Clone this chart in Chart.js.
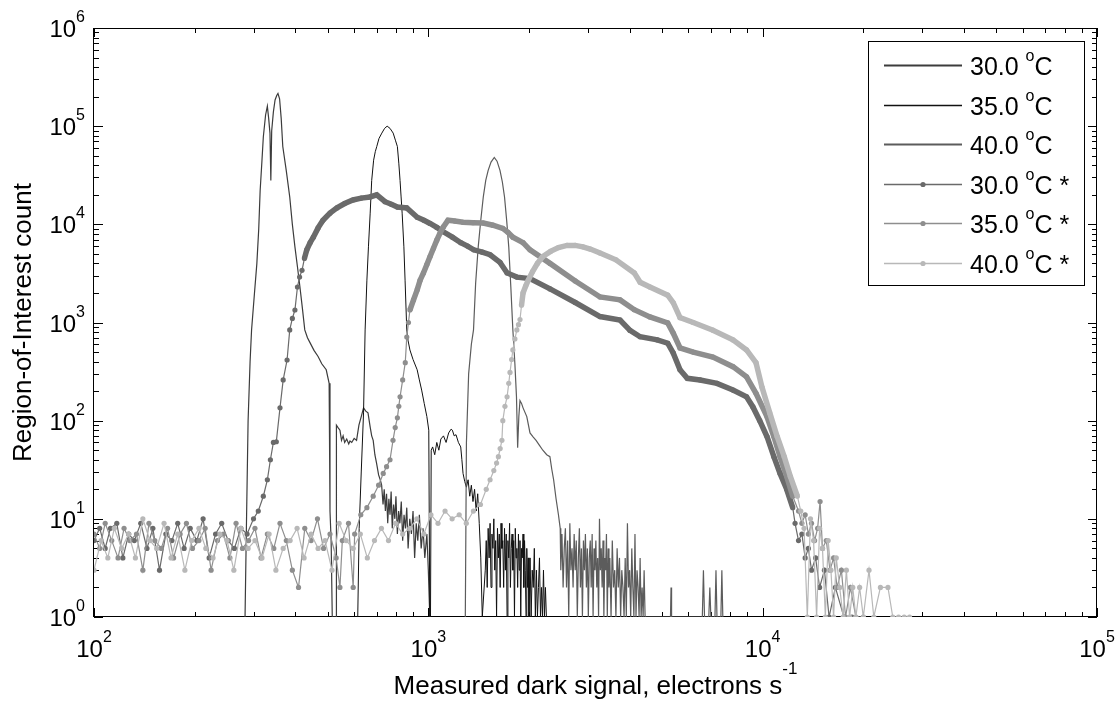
<!DOCTYPE html>
<html>
<head>
<meta charset="utf-8">
<script src="https://cdn.jsdelivr.net/npm/chart.js@4.4.0/dist/chart.umd.min.js"></script>
<style>
  html, body { margin: 0; padding: 0; background: #fff; }
  #wrap { width: 1118px; height: 707px; }
</style>
</head>
<body>
<div id="wrap"><canvas id="darkChart" width="1118" height="707"></canvas></div>
<script>
// decade exponents for the tick labels
const xTickExps = [2, 3, 4, 5];
const yTickExps = [0, 1, 2, 3, 4, 5, 6];

const legendLabels = ['30.0', '35.0', '40.0', '30.0', '35.0', '40.0'];

// thin histograms (electrons/s, count)
const thin30X = [283, 285, 289, 293, 296, 302, 307, 311, 314, 318, 321, 326, 330, 333, 336, 338, 340, 344, 348, 352,
  355, 359, 363, 367, 376, 385, 392, 399, 406, 413, 420, 427, 435, 443, 455, 468, 480, 495, 505, 508, 512, 516,
  530, 531, 537, 544, 550, 556, 562, 570, 578, 583, 590, 600, 610, 620, 630, 640, 650, 660, 670, 677, 684, 692, 700, 710, 718,
  725, 732, 738, 744, 750, 756, 762, 768, 774, 780, 787, 794, 800, 808, 815, 822, 830, 838, 846, 854,
  862, 870, 880, 890, 900, 910, 920, 930, 940, 952, 964, 976, 990, 1000, 1010];
const thin30Y = [1, 5, 100, 400, 840, 2000, 4000, 9000, 22000, 45000, 78000, 130000, 160000, 120000, 85000, 28000, 90000, 140000, 185000, 205000,
  215000, 190000, 120000, 62000, 35000, 19000, 10000, 5900, 3700, 2300, 1400, 840, 700, 620, 520, 450, 380, 330, 240, 12, 6, 1,
  1, 90, 85, 80, 63, 70, 60, 65, 58, 62, 60, 66, 63, 90, 110, 135, 125, 120, 86, 70, 63, 45, 37, 28, 25,
  22, 14, 20, 12, 18, 9, 16, 11, 19, 8, 14, 10, 17, 7, 12, 9, 15, 6, 11, 8,
  13, 5, 10, 7, 12, 4, 9, 6, 11, 5, 8, 4, 7, 3, 1];

const thin35X = [615, 621, 630, 640, 647, 655, 662, 670, 677, 686, 694, 701, 712, 726, 740, 753, 768, 785, 797, 808,
  816, 823, 829, 835, 845, 852, 862, 870, 881, 900, 926, 940, 955, 972, 990, 1003, 1010,
  1015, 1020, 1030, 1045, 1060, 1075, 1090, 1110, 1130, 1150, 1170, 1180, 1195, 1210, 1230, 1250, 1260, 1270, 1285, 1300,
  1315, 1330, 1345, 1360, 1375, 1390, 1405, 1420, 1435, 1450,
  1480, 1490, 1500, 1510, 1520, 1530, 1540, 1550, 1560, 1570,
  1580, 1590, 1600, 1610, 1620, 1630, 1640, 1650, 1660, 1670,
  1680, 1690, 1700, 1710, 1720, 1730, 1740, 1750, 1760, 1770,
  1780, 1790, 1800, 1810, 1820, 1830, 1840, 1850, 1860, 1870,
  1880, 1890, 1900, 1910, 1920, 1930, 1940, 1950, 1960, 1970,
  1980, 1990, 2000,
  2015, 2030, 2045, 2060, 2075, 2090, 2105, 2120, 2135, 2150, 2165, 2180, 2195, 2210, 2225, 2240, 2255, 2270, 2285, 2300];
const thin35Y = [1, 8, 30, 120, 840, 2700, 5900, 13000, 28000, 45000, 55000, 62000, 75000, 85000, 95000, 100000, 95000, 85000, 72000, 62000,
  42000, 28000, 19000, 13000, 5900, 2700, 840, 650, 525, 420, 330, 260, 205, 150, 110, 80, 1,
  1, 50, 54, 45, 60, 50, 65, 70, 60, 75, 82, 80, 70, 72, 60, 54, 40, 29, 24, 21,
  25, 17, 22, 15, 20, 12, 18, 9, 4, 1,
  3, 6, 2, 8, 4, 9, 2, 7, 5, 10,
  3, 6, 1, 8, 4, 7, 2, 9, 5, 6,
  2, 8, 3, 7, 1, 6, 4, 9, 2, 5,
  7, 3, 6, 1, 8, 4, 5, 2, 7, 3,
  6, 1, 5, 4, 7, 2, 6, 3, 1, 5,
  2, 4, 1,
  4, 1, 3, 2, 5, 1, 3, 1, 2, 4, 1, 2, 1, 3, 1, 2, 1, 1, 1, 1];

const thin40X = [1290, 1300, 1320, 1345, 1365, 1385, 1410, 1435, 1460, 1485, 1510, 1540, 1575, 1605, 1638, 1665, 1690, 1715, 1740, 1765,
  1790, 1815, 1835, 1850, 1865, 1880, 1900, 1920, 1970, 2014, 2060, 2100, 2150, 2200, 2260, 2310, 2340, 2370, 2410, 2450, 2480,
  2490, 2510, 2530, 2550, 2570, 2590, 2610, 2630, 2650, 2670,
  2690, 2710, 2730, 2750, 2770, 2790, 2810, 2830, 2850, 2870,
  2890, 2910, 2930, 2950, 2970, 2990, 3010, 3030, 3050, 3070,
  3090, 3110, 3130, 3150, 3170, 3190, 3210, 3230, 3250, 3270,
  3290, 3310, 3330, 3350, 3370, 3390, 3410, 3430, 3450, 3470, 3490,
  3520, 3550, 3580, 3610, 3640, 3670, 3700, 3730, 3760, 3790,
  3820, 3850, 3880, 3910, 3940, 3970, 4000, 4030, 4060, 4090,
  4120, 4150, 4180, 4210, 4240, 4270, 4300, 4330, 4360, 4390, 4420, 4450, 4480,
  4700, 5000, 5300, 5320, 5340, 5600,
  6600, 6650, 6700, 6900, 6950, 7000, 7200, 7250, 7300, 7500, 7550, 7600];
const thin40Y = [1, 60, 300, 600, 840, 2500, 5900, 11000, 19000, 28000, 35500, 43000, 48000, 44000, 35500, 27000, 19000, 11000, 5900, 2300,
  840, 380, 175, 53, 110, 160, 150, 135, 110, 75, 68, 63, 56, 50, 45, 43, 32, 25, 16, 11, 8,
  3, 7, 2, 5, 8, 2, 6, 1, 9, 3,
  5, 2, 7, 3, 6, 1, 4, 8, 2, 5,
  1, 6, 3, 7, 2, 5, 1, 4, 6, 2,
  7, 1, 5, 3, 6, 2, 4, 1, 10, 3,
  5, 2, 6, 1, 4, 3, 7, 1, 5, 2, 4,
  1, 6, 2, 3, 1, 5, 2, 4, 1, 3,
  2, 1, 4, 1, 9, 2, 3, 1, 5, 2,
  1, 7, 1, 3, 2, 1, 4, 1, 2, 1, 3, 1, 1,
  1, 1, 1, 2, 1, 1,
  1, 3, 1, 1, 2, 1, 1, 3, 1, 1, 3, 1];

// marker series (the * ones)
const mark30X = [100, 104, 108, 112, 117, 122, 127, 132, 138, 144, 150, 157, 164, 171, 178, 186, 194, 203, 212, 221,
  231, 241, 252, 263, 275, 287, 300, 310,
  321, 330, 337, 344, 351, 360, 368, 378, 385, 392, 399, 406, 412, 419, 426, 433, 443, 453, 468, 484,
  508, 533, 562, 595, 630, 669, 701, 742, 775, 808, 862, 926, 970, 1012, 1060, 1109, 1180, 1250, 1310, 1367,
  1450, 1530, 1638, 1720, 1840, 2014, 2312, 2750, 3263, 3745, 4010, 4298, 4840, 5200, 5400, 5660, 5950, 6500, 7300, 8150,
  8950, 9350, 9800, 10300, 10800, 11270, 11800, 12300,
  12500, 12800, 13100, 13400, 13700, 14000, 14400, 14800, 15300, 15800, 16500, 17500, 18500];
const mark30Y = [6, 8, 5, 8, 9, 4, 7, 6, 9, 5, 8, 3, 7, 6, 9, 5, 8, 6, 10, 4,
  7, 9, 6, 5, 8, 7, 10, 12,
  17, 25, 40, 60, 61, 135, 260, 415, 840, 1100, 1340, 2300, 2900, 3400, 4500, 5500, 6500, 7400, 9200, 11000,
  13000, 14700, 16300, 17700, 18500, 19000, 20000, 17000, 16000, 15000, 14700, 11800, 11000, 10200, 9300, 8400, 7400, 6500, 6000, 5500,
  5200, 4900, 4100, 3200, 2900, 2800, 2200, 1600, 1150, 1060, 830, 716, 665, 615, 490, 330, 270, 260, 240, 205,
  175, 138, 100, 69, 43, 29, 20, 13,
  9, 6, 7, 4, 5, 3, 4, 2, 3, 1, 2, 1, 1];

const mark35X = [100, 104, 108, 113, 118, 123, 128, 134, 140, 146, 152, 159, 166, 173, 181, 189, 197, 206, 215, 224,
  234, 244, 255, 266, 278, 290, 303, 316, 330, 345, 360, 376, 392, 409, 427, 446, 466, 486, 508, 530,
  544, 553, 577, 596, 602, 628, 655,
  684, 710, 733, 750, 768, 784, 796, 808, 816, 823, 838, 853, 862, 872, 881, 903, 926, 945, 967, 990,
  1012, 1036, 1060, 1085, 1109, 1145, 1200, 1270, 1360, 1460, 1560, 1670, 1730, 1790, 1920, 2014, 2312, 2750, 3263, 3745,
  4130, 4600, 5200, 5400, 5660, 6200, 7100, 8150, 8950, 9550, 10300, 10800, 11270, 11800, 12300,
  12800, 13100, 13400, 13700, 14000, 14300, 14600, 14850, 15100, 15500, 15900, 16300, 16700, 17200, 17700, 18300, 19000, 20000];
const mark35Y = [7, 5, 9, 6, 4, 8, 6, 7, 3, 9, 6, 5, 8, 4, 7, 9, 5, 6, 8, 3,
  6, 7, 4, 9, 5, 6, 8, 4, 7, 5, 9, 6, 3, 2, 8, 6, 10, 5, 7, 4,
  2, 6, 9, 2, 7, 11, 13,
  17, 22, 29, 34, 40, 63, 85, 107, 140, 175, 260, 390, 710, 1000, 1340, 1700, 2150, 2700, 3200, 3900,
  4700, 5700, 6900, 8200, 9400, 11000, 10800, 10500, 10400, 10300, 9800, 9100, 8300, 7400, 6500, 5500, 4000, 2650, 1820, 1700,
  1350, 1140, 990, 780, 550, 500, 445, 355, 280, 190, 110, 69, 43, 27, 17,
  12, 9, 11, 7, 9, 6, 8, 15, 5, 6, 3, 4, 2, 3, 1, 2, 1, 1];

const mark40X = [100, 105, 110, 115, 121, 127, 133, 140, 147, 154, 162, 170, 178, 187, 196, 206, 216, 227, 238, 250,
  262, 275, 289, 303, 318, 334, 350, 368, 386, 405, 425, 446, 468, 491, 515, 541, 568, 596, 626, 657,
  690, 724, 760, 798, 838, 880, 924, 970, 1018, 1069, 1122, 1178, 1237, 1299, 1364, 1432,
  1490, 1530, 1570, 1600, 1620, 1640, 1660, 1670, 1695, 1720, 1740, 1755, 1775, 1790, 1815, 1840, 1860, 1880, 1900, 1920,
  1955, 1990, 2050, 2120, 2200, 2320, 2450, 2600, 2750, 2900, 3050, 3263, 3640, 4130, 4300, 4600, 5200, 5400, 5660, 6200,
  7100, 8150, 8950, 9550, 9950, 10500, 11050, 11600, 12100, 12700,
  13000, 13300, 13600, 13900, 14200, 14500, 14800, 15100, 15400, 15700, 16000, 16300, 16600, 17000, 17400, 17800, 18200, 18600, 19000, 19500,
  20000, 20800, 21500, 22500, 23700, 24500, 25500, 26500, 27500];
const mark40Y = [3, 6, 4, 8, 5, 7, 4, 10, 6, 5, 9, 4, 7, 3, 6, 8, 5, 4, 7, 6,
  3, 8, 5, 6, 4, 7, 3, 5, 6, 8, 4, 7, 5, 6, 3, 9, 6, 5, 7, 4,
  6, 8, 6, 9, 7, 8, 10, 7, 11, 9, 12, 10, 11, 9, 12, 14,
  20, 25, 31, 37, 43, 52, 63, 100, 140, 175, 240, 310, 420, 525, 680, 840, 950, 1070, 1500, 2000,
  2350, 2700, 3300, 4000, 4700, 5300, 5800, 6100, 6100, 5900, 5600, 5100, 4350, 3200, 2570, 2300, 1900, 1590, 1120, 1000,
  835, 665, 525, 390, 220, 120, 69, 43, 27, 17,
  12, 8, 1, 10, 6, 1, 8, 5, 1, 6, 3, 1, 4, 2, 1, 3, 1, 2, 1, 2,
  1, 3, 1, 2, 2, 1, 1, 1, 1];

const FONT = '"Liberation Sans", Arial, Helvetica, sans-serif';

function pairs(xs, ys) {
  return xs.map((x, i) => ({ x: x, y: ys[i] }));
}

function thinSet(xs, ys, color, width, order) {
  return {
    data: pairs(xs, ys),
    borderColor: color,
    borderWidth: width,
    showLine: true,
    pointRadius: 0,
    order: order
  };
}

// band = x range where the dots merge into a thick line
function markSet(xs, ys, color, bandFrom, bandTo, order) {
  return {
    data: pairs(xs, ys),
    borderColor: color,
    backgroundColor: color,
    borderWidth: 1.2,
    showLine: true,
    pointRadius: 2.6,
    pointBorderWidth: 0,
    pointBackgroundColor: color,
    order: order,
    starred: true,
    segment: {
      borderWidth: c => (c.p0.parsed.x >= bandFrom && c.p1.parsed.x <= bandTo) ? 5.5 : 1.2
    }
  };
}

const datasets = [
  thinSet(thin30X, thin30Y, '#3c3c3c', 1.2, 6),
  thinSet(thin35X, thin35Y, '#111111', 1, 5),
  thinSet(thin40X, thin40Y, '#5c5c5c', 1.2, 4),
  markSet(mark30X, mark30Y, '#6a6a6a', 420, 12300, 3),
  markSet(mark35X, mark35Y, '#8e8e8e', 880, 12300, 2),
  markSet(mark40X, mark40Y, '#b8b8b8', 1900, 12700, 1)
];

function powerLabel(ctx, base, exp, x, y, align, mainSize, supSize, rise) {
  ctx.font = mainSize + 'px ' + FONT;
  const wMain = ctx.measureText(base).width;
  ctx.font = supSize + 'px ' + FONT;
  const wSup = ctx.measureText(exp).width;
  const total = wMain + wSup;
  let left = x;
  if (align === 'center') left = x - total / 2;
  if (align === 'right') left = x - total;
  ctx.textAlign = 'left';
  ctx.textBaseline = 'alphabetic';
  ctx.font = mainSize + 'px ' + FONT;
  ctx.fillText(base, left, y);
  ctx.font = supSize + 'px ' + FONT;
  ctx.fillText(exp, left + wMain, y - rise);
  return left + total;
}

const axisFrame = {
  id: 'axisFrame',
  beforeDatasetsDraw(chart) {
    const ctx = chart.ctx;
    const a = chart.chartArea;
    const xs = chart.scales.x;
    const ys = chart.scales.y;
    ctx.save();
    ctx.strokeStyle = '#000';
    ctx.lineWidth = 1;
    ctx.strokeRect(Math.round(a.left) - 0.5, Math.round(a.top) + 0.5, Math.round(a.right - a.left), Math.round(a.bottom - a.top) - 1);

    ctx.beginPath();
    xTickExps.forEach((e, i) => {
      for (let k = 1; k <= 9; k++) {
        if (k > 1 && i === xTickExps.length - 1) break;
        const px = Math.round(xs.getPixelForValue(k * Math.pow(10, e))) + 0.5;
        const len = k === 1 ? 9 : 5;
        ctx.moveTo(px, a.bottom); ctx.lineTo(px, a.bottom - len);
        ctx.moveTo(px, a.top); ctx.lineTo(px, a.top + len);
      }
    });
    yTickExps.forEach((e, i) => {
      for (let k = 1; k <= 9; k++) {
        if (k > 1 && i === yTickExps.length - 1) break;
        const py = Math.round(ys.getPixelForValue(k * Math.pow(10, e))) + 0.5;
        const len = k === 1 ? 9 : 5;
        ctx.moveTo(a.left, py); ctx.lineTo(a.left + len, py);
        ctx.moveTo(a.right, py); ctx.lineTo(a.right - len, py);
      }
    });
    ctx.stroke();

    ctx.fillStyle = '#000';
    xTickExps.forEach(e => {
      const px = xs.getPixelForValue(Math.pow(10, e));
      powerLabel(ctx, '10', String(e), px, a.bottom + 40, 'center', 24, 16, 15);
    });
    yTickExps.forEach(e => {
      const py = ys.getPixelForValue(Math.pow(10, e));
      powerLabel(ctx, '10', String(e), a.left - 9, py + 9, 'right', 24, 16, 15);
    });

    // axis titles
    ctx.font = '26px ' + FONT;
    const tMain = 'Measured dark signal, electrons s';
    const wMain = ctx.measureText(tMain).width;
    ctx.font = '17px ' + FONT;
    const wSup = ctx.measureText('-1').width;
    const cx = (a.left + a.right) / 2;
    powerLabel(ctx, tMain, '-1', cx - (wMain + wSup) / 2, 694, 'left', 26, 17, 20);

    ctx.translate(24, (a.top + a.bottom) / 2);
    ctx.rotate(-Math.PI / 2);
    ctx.font = '26px ' + FONT;
    ctx.textAlign = 'center';
    ctx.textBaseline = 'middle';
    ctx.fillText('Region-of-Interest count', 0, 0);
    ctx.restore();
  }
};

const legendBox = {
  id: 'legendBox',
  afterDatasetsDraw(chart) {
    const ctx = chart.ctx;
    const box = { left: 868, top: 41, width: 217, height: 245 };
    ctx.save();
    ctx.fillStyle = '#fff';
    ctx.fillRect(box.left, box.top, box.width, box.height);
    ctx.strokeStyle = '#000';
    ctx.lineWidth = 1;
    ctx.strokeRect(box.left + 0.5, box.top + 0.5, box.width - 1, box.height - 1);
    chart.data.datasets.forEach((ds, i) => {
      const y = Math.round(box.top + 24 + i * 39.6) + 0.5;
      ctx.strokeStyle = ds.borderColor;
      ctx.lineWidth = ds.starred ? 1.6 : (ds.borderWidth + 0.6);
      ctx.beginPath();
      ctx.moveTo(884, y);
      ctx.lineTo(962, y);
      ctx.stroke();
      if (ds.starred) {
        ctx.fillStyle = ds.borderColor;
        ctx.beginPath();
        ctx.arc(923, y, 2.6, 0, Math.PI * 2);
        ctx.fill();
      }
      ctx.fillStyle = '#000';
      let x = powerLabel(ctx, legendLabels[i] + ' ', 'o', 970, y + 9, 'left', 25, 16, 14);
      ctx.font = '25px ' + FONT;
      ctx.fillText(ds.starred ? 'C *' : 'C', x, y + 9);
    });
    ctx.restore();
  }
};

const ctx = document.getElementById('darkChart').getContext('2d');
const darkChart = new Chart(ctx, {
  type: 'scatter',
  data: { datasets: datasets },
  options: {
    responsive: false,
    animation: false,
    events: [],
    layout: { padding: { left: 94, top: 28, right: 21, bottom: 90 } },
    scales: {
      x: { type: 'logarithmic', min: 100, max: 100000, display: false },
      y: { type: 'logarithmic', min: 1, max: 1000000, display: false }
    },
    plugins: {
      legend: { display: false },
      tooltip: { enabled: false }
    }
  },
  plugins: [axisFrame, legendBox]
});
</script>
</body>
</html>
